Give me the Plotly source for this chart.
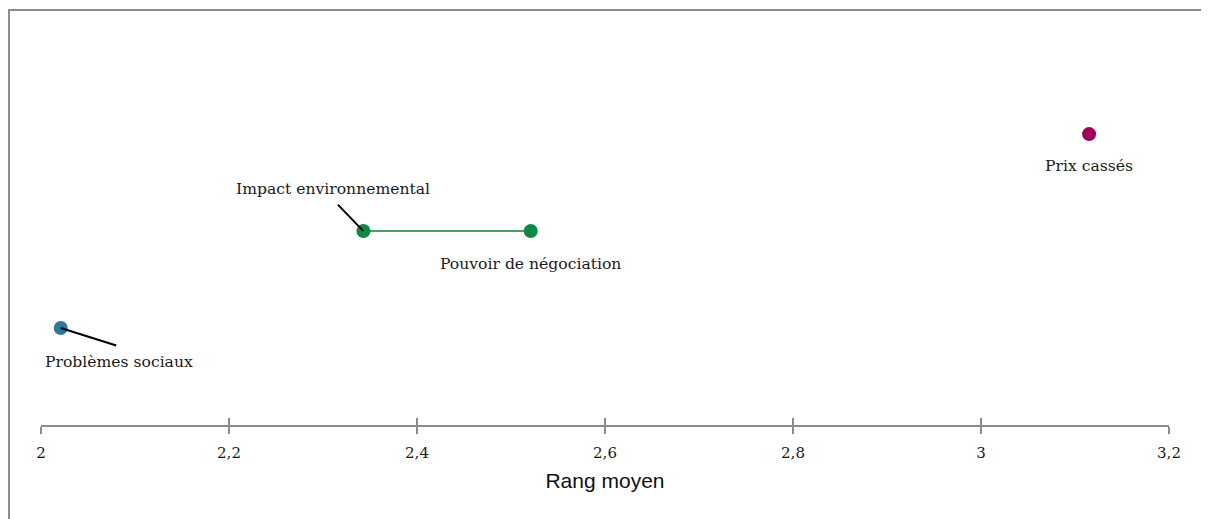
import plotly.graph_objects as go

# valeurs
labels = ["Problèmes sociaux", "Impact environnemental", "Pouvoir de négociation", "Prix cassés"]
rang_moyen = [2.021, 2.343, 2.521, 3.115]
rows = [1, 2, 2, 3]
colors = ["#2b7a9e", "#0b8a45", "#0b8a45", "#a3005a"]

tick_vals = [2, 2.2, 2.4, 2.6, 2.8, 3, 3.2]
tick_text = ["2", "2,2", "2,4", "2,6", "2,8", "3", "3,2"]

serif = "'DejaVu Serif', serif"

fig = go.Figure()

# ligne verte entre les deux points du même rang
fig.add_trace(go.Scatter(
    x=rang_moyen[1:3], y=rows[1:3], mode="lines",
    line=dict(color="#45a26b", width=2), hoverinfo="skip"
))

fig.add_trace(go.Scatter(
    x=rang_moyen, y=rows, mode="markers",
    marker=dict(color=colors, size=14),
    text=labels, hoverinfo="text"
))

# étiquettes: (décalage x, décalage y) en pixels
label_shift = [(58, -34), (-30, 42), (0, -33), (0, -32)]
for lab, xv, yv, (dx, dy) in zip(labels, rang_moyen, rows, label_shift):
    fig.add_annotation(x=xv, y=yv, text=lab, showarrow=False,
                       xshift=dx, yshift=dy,
                       font=dict(family=serif, size=15.6, color="#1a1a1a"))

# traits de rappel
leaders = [(0, 57, 18), (1, -27, -28)]
for i, ax, ay in leaders:
    fig.add_annotation(x=rang_moyen[i], y=rows[i], text="", showarrow=True,
                       arrowhead=0, arrowwidth=2, arrowcolor="black",
                       ax=ax, ay=ay)

# la page a une marge de 8 px : on compense
fig.update_layout(
    width=1201, height=511,
    margin=dict(l=33, r=40, t=2, b=94),
    paper_bgcolor="white", plot_bgcolor="white",
    showlegend=False,
    xaxis=dict(
        range=[2, 3.2], tickvals=tick_vals, ticktext=tick_text,
        showgrid=False, zeroline=False,
        showline=True, linecolor="#8c8c8c", linewidth=2,
        ticks="outside", ticklen=7, tickwidth=2, tickcolor="#8c8c8c",
        ticklabelstandoff=6,
        tickfont=dict(family=serif, size=15, color="#1a1a1a"),
        title=dict(text="Rang moyen", standoff=12,
                   font=dict(family="Arial, 'Liberation Sans', sans-serif", size=21, color="#111111")),
    ),
    xaxis2=dict(
        range=[2, 3.2], tickvals=tick_vals, overlaying="x", side="bottom",
        showgrid=False, zeroline=False, showticklabels=False,
        ticks="inside", ticklen=7, tickwidth=2, tickcolor="#8c8c8c",
        anchor="y",
    ),
    yaxis=dict(range=[0, 4.28], visible=False, showgrid=False, zeroline=False),
)

# trace invisible pour afficher les graduations intérieures
fig.add_trace(go.Scatter(x=[2], y=[0], xaxis="x2", mode="markers",
                         marker=dict(opacity=0), hoverinfo="skip"))

# cadre gris (gauche et haut)
fig.add_shape(type="rect", xref="paper", yref="paper",
              x0=-0.0284, x1=1.2, y0=-0.5, y1=1,
              line=dict(color="#8c8c8c", width=2), fillcolor="rgba(0,0,0,0)", layer="below")

fig.write_html("out.html")
